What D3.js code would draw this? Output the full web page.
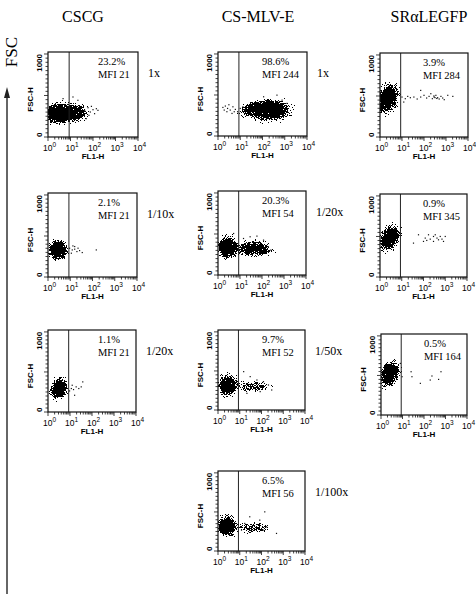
<!DOCTYPE html>
<html><head><meta charset="utf-8">
<script src="https://cdn.jsdelivr.net/npm/d3@7/dist/d3.min.js"></script>
<style>
html,body{margin:0;padding:0;background:#fff;}
svg{display:block;}
</style></head>
<body>
<script>
// ---------------- DATA ----------------
const constructs = ["CSCG", "CS-MLV-E", "SRαLEGFP"];
const panelConstruct = [0, 1, 2, 0, 1, 2, 0, 1, 2, 1];
const dilutions = ["1x", "1x", "", "1/10x", "1/20x", "", "1/20x", "1/50x", "", "1/100x"];
const percents = ["23.2%", "98.6%", "3.9%", "2.1%", "20.3%", "0.9%", "1.1%", "9.7%", "0.5%", "6.5%"];
const mfis = ["MFI 21", "MFI 244", "MFI 284", "MFI 21", "MFI 54", "MFI 345", "MFI 21", "MFI 52", "MFI 164", "MFI 56"];
const gateDecade = 0.94;           // FL1 gate (log10 units)
const xTickDecades = [0, 1, 2, 3, 4];
const yTicks = [0, 1000];

// dense populations: [FL1 (log10), FSC, sd FL1 (log10), sd FSC, density weight, tilt deg]
const clusters = [
  [[0.45, 285, 0.28, 58, 1, 0], [1.1, 292, 0.30, 50, 0.9, 0]],
  [[2.3, 318, 0.45, 62, 1, 0], [1.6, 315, 0.30, 42, 0.6, 0]],
  [[0.35, 470, 0.22, 88, 1, 25]],
  [[0.45, 330, 0.20, 58, 1, 15]],
  [[0.45, 335, 0.22, 65, 1, 0], [1.65, 322, 0.38, 44, 0.8, 0]],
  [[0.45, 480, 0.20, 78, 1, 25]],
  [[0.5, 290, 0.18, 62, 1, 20]],
  [[0.45, 320, 0.21, 62, 1, 0], [1.6, 300, 0.35, 30, 0.6, 0]],
  [[0.4, 520, 0.20, 78, 1, 25]],
  [[0.42, 319, 0.21, 62, 1, 0], [1.6, 300, 0.35, 30, 0.55, 0]]
];

// individual sparse events: [FL1 (log10), FSC]
const events = [
  [[1.63,321],[1.78,353],[1.88,301],[2.0,329],[2.15,341],[1.82,261],[2.07,281],[1.70,221],[1.93,369],[2.22,321],[0.67,462],[1.11,482],[1.33,442],[0.07,261]],
  [[0.22,348],[0.33,365],[0.43,336],[0.55,316],[0.67,356],[0.78,324],[0.88,296],[1.0,336],[1.12,356],[0.40,296],[0.63,275],[1.23,316],[0.28,316],[0.49,381],[0.73,296],[2.05,478],[2.65,498],[2.88,437],[3.1,397]],
  [[1.0,487],[1.15,467],[1.26,495],[1.38,479],[1.54,487],[1.69,463],[1.85,487],[2.0,508],[2.12,475],[2.23,495],[2.38,467],[2.46,487],[2.54,508],[2.62,479],[2.69,463],[2.77,495],[2.85,475],[2.92,455],[3.08,508],[3.31,495],[1.85,568],[2.31,528],[1.08,426],[2.5,480],[2.45,500],[2.58,470]],
  [[0.97,351],[1.09,330],[1.2,339],[1.30,310],[1.42,322],[1.54,298],[1.2,371],[1.05,290],[2.17,330],[1.35,351],[1.12,379]],
  [[1.46,466],[1.77,474],[2.07,425],[2.29,344],[2.4,304],[1.16,445],[0.71,506]],
  [[1.54,418],[1.77,521],[2.0,439],[2.15,451],[2.31,467],[2.46,500],[2.54,521],[2.62,480],[2.69,459],[2.77,500],[2.85,467],[2.92,439],[3.0,500],[2.46,439],[2.08,480],[2.23,521]],
  [[1.06,293],[1.16,280],[1.28,314],[1.40,293],[1.51,314],[1.58,376],[1.21,209],[1.10,334],[0.98,263]],
  [[1.18,491],[1.48,427],[1.79,384],[2.09,363],[2.32,320],[2.47,256],[1.94,235],[1.33,213]],
  [[1.40,547],[1.44,484],[1.83,400],[2.29,442],[2.37,493],[2.68,450],[2.79,547],[0.98,484],[0.90,652]],
  [[2.15,501],[2.69,225],[1.46,438],[1.92,395],[1.23,353],[2.23,310],[2.08,268],[1.08,268]]
];

// ---------------- LAYOUT ----------------
const W = 476, H = 594;
const frames = [
  {x:48, y:52, w:90, h:85}, {x:218, y:52, w:89, h:84}, {x:380, y:53, w:88, h:84},
  {x:48, y:193, w:89, h:84}, {x:218, y:191, w:88, h:84}, {x:380, y:194, w:87, h:83},
  {x:48, y:330, w:88, h:82}, {x:218, y:330, w:87, h:80}, {x:381, y:334, w:86, h:81},
  {x:218, y:471, w:87, h:80}
];
const titleX = [83, 258, 429];
const textDx = [50, 44, 43];

const svg = d3.select("body").append("svg").attr("width", W).attr("height", H)
  .attr("xmlns", "http://www.w3.org/2000/svg");
const defs = svg.append("defs");

const grad = defs.append("radialGradient").attr("id", "blob");
[[0,1],[0.42,1],[0.55,0.78],[0.68,0.48],[0.82,0.22],[0.92,0.09],[1,0]].forEach(s =>
  grad.append("stop").attr("offset", s[0]).attr("stop-color", "#000").attr("stop-opacity", s[1]));

const filt = defs.append("filter").attr("id", "speckle")
  .attr("filterUnits", "userSpaceOnUse").attr("x", 0).attr("y", 0).attr("width", W).attr("height", H)
  .attr("color-interpolation-filters", "sRGB");
filt.append("feTurbulence").attr("type", "fractalNoise").attr("baseFrequency", 1.1)
  .attr("numOctaves", 2).attr("seed", 7).attr("result", "noise");
filt.append("feColorMatrix").attr("in", "noise").attr("type", "matrix")
  .attr("values", "0 0 0 0 0  0 0 0 0 0  0 0 0 0 0  1 0 0 0 0").attr("result", "na0");
filt.append("feComponentTransfer").attr("in", "na0").attr("result", "na")
  .append("feFuncA").attr("type", "linear").attr("slope", 2.0).attr("intercept", -0.45);
filt.append("feComposite").attr("in", "SourceGraphic").attr("in2", "na").attr("operator", "arithmetic")
  .attr("k1", 0).attr("k2", 1).attr("k3", 1).attr("k4", -0.51).attr("result", "sum");
const ct2 = filt.append("feComponentTransfer").attr("in", "sum");
ct2.append("feFuncA").attr("type", "discrete").attr("tableValues", "0 1");

const sans = "'Liberation Sans',Arial,sans-serif";
const serif = "'Liberation Serif','Times New Roman',serif";

// titles
svg.selectAll("text.title").data(constructs).join("text")
  .attr("x", (d, i) => titleX[i]).attr("y", 22)
  .attr("text-anchor", "middle")
  .style("font-family", serif).style("font-size", "16px")
  .text(d => d);

// FSC arrow
svg.append("line").attr("x1", 7).attr("x2", 7).attr("y1", H).attr("y2", 96)
  .attr("stroke", "#333").attr("stroke-width", 1.5);
svg.append("path").attr("d", "M7,87 L10,98 L4,98 Z").attr("fill", "#222");
svg.append("text").attr("transform", "translate(17,52) rotate(-90)")
  .attr("text-anchor", "middle")
  .style("font-family", serif).style("font-size", "17px")
  .text("FSC");

frames.forEach((f, i) => {
  const col = panelConstruct[i];
  const x = d3.scaleLog().domain([1, 1e4]).range([f.x, f.x + f.w]);
  const y = d3.scaleLinear().domain([0, 1024]).range([f.y + f.h, f.y]);
  const pxDec = f.w / 4, pxFsc = f.h / 1024;
  const g = svg.append("g");

  const cid = "clip" + i;
  defs.append("clipPath").attr("id", cid).append("rect")
    .attr("x", f.x).attr("y", f.y).attr("width", f.w).attr("height", f.h);

  const dense = g.append("g").attr("clip-path", `url(#${cid})`)
    .append("g").attr("filter", "url(#speckle)");
  dense.selectAll("ellipse").data(clusters[i]).join("ellipse")
    .attr("cx", d => x(10 ** d[0])).attr("cy", d => y(d[1]))
    .attr("rx", d => 2.8 * d[2] * pxDec).attr("ry", d => 2.8 * d[3] * pxFsc)
    .attr("transform", d => `rotate(${d[5]},${x(10 ** d[0])},${y(d[1])})`)
    .attr("fill", "url(#blob)").attr("fill-opacity", d => d[4]);

  g.append("g").attr("clip-path", `url(#${cid})`)
    .selectAll("rect").data(events[i]).join("rect")
    .attr("x", d => x(10 ** d[0]) - 0.6).attr("y", d => y(d[1]) - 0.6)
    .attr("width", 1.2).attr("height", 1.2).attr("fill", "#111");

  // gate
  g.append("line").attr("x1", x(10 ** gateDecade)).attr("x2", x(10 ** gateDecade))
    .attr("y1", f.y).attr("y2", f.y + f.h).attr("stroke", "#222").attr("stroke-width", 1);

  // frame
  g.append("rect").attr("x", f.x).attr("y", f.y).attr("width", f.w).attr("height", f.h)
    .attr("fill", "none").attr("stroke", "#111").attr("stroke-width", 1.2);

  // x axis ticks (log)
  const xt = x.ticks();
  g.append("g").selectAll("line").data(xt).join("line")
    .attr("x1", d => x(d)).attr("x2", d => x(d))
    .attr("y1", f.y + f.h).attr("y2", d => f.y + f.h + (Math.log10(d) % 1 === 0 ? 4 : 2.5))
    .attr("stroke", "#111").attr("stroke-width", 0.8);
  const xl = g.append("g").selectAll("text").data(xTickDecades).join("text")
    .attr("x", d => x(10 ** d) + 1.5).attr("y", f.y + f.h + 14)
    .attr("text-anchor", "middle")
    .style("font-family", sans).style("font-size", "8.5px");
  xl.append("tspan").text("10");
  xl.append("tspan").attr("dy", -4).style("font-size", "6.5px").text(d => d);
  g.append("text").attr("x", f.x + f.w / 2).attr("y", f.y + f.h + 22)
    .attr("text-anchor", "middle").style("font-family", sans).style("font-size", "8px")
    .style("font-weight", "bold").text("FL1-H");

  // y axis ticks (linear)
  const yt = d3.range(0, 1001, 50);
  g.append("g").selectAll("line").data(yt).join("line")
    .attr("x1", f.x).attr("x2", d => f.x - (d % 500 === 0 ? 4 : 2.5))
    .attr("y1", d => y(d)).attr("y2", d => y(d))
    .attr("stroke", "#111").attr("stroke-width", 0.8);
  g.append("g").selectAll("text").data(yTicks).join("text")
    .attr("transform", d => `translate(${f.x - 6},${y(d)}) rotate(-90)`)
    .attr("text-anchor", d => d === 0 ? "start" : "end")
    .style("font-family", sans).style("font-size", "8px").style("font-weight", "bold")
    .text(d => d);
  g.append("text").attr("transform", `translate(${f.x - 15},${f.y + f.h / 2 + 5}) rotate(-90)`)
    .attr("text-anchor", "middle").style("font-family", sans).style("font-size", "8px")
    .style("font-weight", "bold").text("FSC-H");

  // annotations
  g.append("text").attr("x", f.x + textDx[col]).attr("y", f.y + 13)
    .style("font-family", serif).style("font-size", "10.5px").text(percents[i]);
  g.append("text").attr("x", f.x + textDx[col]).attr("y", f.y + 26)
    .style("font-family", serif).style("font-size", "10.5px").text(mfis[i]);
  if (dilutions[i]) {
    g.append("text").attr("x", f.x + f.w + 10).attr("y", f.y + 25)
      .style("font-family", serif).style("font-size", "12px").text(dilutions[i]);
  }
});
</script>
</body></html>
